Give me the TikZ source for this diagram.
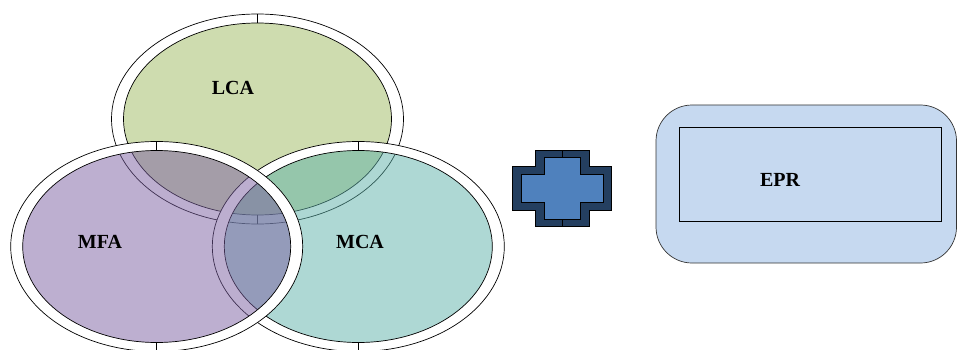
\documentclass[tikz,border=0pt]{standalone}
\usepackage{fontspec}
\setmainfont{Liberation Serif}
\definecolor{lcagreen}{RGB}{157,185,95}
\definecolor{mfapurple}{RGB}{123,95,161}
\definecolor{mcateal}{RGB}{93,177,169}
\definecolor{plusdark}{RGB}{36,63,96}
\definecolor{pluslight}{RGB}{79,129,189}
\definecolor{eprblue}{RGB}{198,217,240}

\begin{document}
\begin{tikzpicture}[x=1pt, y=-1pt, line width=0.7pt,
    ring/.style={fill=white, even odd rule},
    setlabel/.style={font=\fontsize{20}{24}\selectfont\bfseries}]
    \useasboundingbox (0,0) rectangle (957,350);

    \coordinate (lca) at (257.5,119);
    \coordinate (mca) at (358.3,246.5);
    \coordinate (mfa) at (156.7,246.5);

    \fill[ring] (lca) ellipse (146pt and 105pt) (lca) ellipse (134pt and 96pt);
    \fill[lcagreen, fill opacity=0.5] (lca) ellipse (134pt and 96pt);
    \draw (lca) ellipse (146pt and 105pt);
    \draw (lca) ellipse (134pt and 96pt);
    \draw (lca) ++(0,-105) -- ++(0,9);
    \draw (lca) ++(0,105) -- ++(0,-9);

    \fill[ring] (mca) ellipse (146pt and 105pt) (mca) ellipse (134pt and 96pt);
    \fill[mcateal, fill opacity=0.5] (mca) ellipse (134pt and 96pt);
    \draw (mca) ellipse (146pt and 105pt);
    \draw (mca) ellipse (134pt and 96pt);
    \draw (mca) ++(0,-105) -- ++(0,9);
    \draw (mca) ++(0,105) -- ++(0,-9);

    \fill[ring] (mfa) ellipse (146pt and 105pt) (mfa) ellipse (134pt and 96pt);
    \fill[mfapurple, fill opacity=0.5] (mfa) ellipse (134pt and 96pt);
    \draw (mfa) ellipse (146pt and 105pt);
    \draw (mfa) ellipse (134pt and 96pt);
    \draw (mfa) ++(0,-105) -- ++(0,9);
    \draw (mfa) ++(0,105) -- ++(0,-9);

    \node[setlabel] (lcalabel) at (233,88) {LCA};
    \node[setlabel] (mfalabel) at (100,242) {MFA};
    \node[setlabel] (mcalabel) at (360,242) {MCA};

    \draw[fill=plusdark] (535.7,150.7) -- (589,150.7) -- (589,166.7) -- (611.7,166.7)
        -- (611.7,210) -- (589,210) -- (589,226.7) -- (535.7,226.7) -- (535.7,210)
        -- (512.7,210) -- (512.7,166.7) -- (535.7,166.7) -- cycle;
    \draw[fill=pluslight] (544.3,157.3) -- (580.7,157.3) -- (580.7,174.3) -- (603.3,174.3)
        -- (603.3,202.7) -- (580.7,202.7) -- (580.7,219.3) -- (544.3,219.3) -- (544.3,202.7)
        -- (521.7,202.7) -- (521.7,174.3) -- (544.3,174.3) -- cycle;
    \draw (562.2,150.7) -- (562.2,157.3);
    \draw (562.2,219.3) -- (562.2,226.7);

    \draw[draw=black!80, fill=eprblue, rounded corners=36pt] (656,105) rectangle (956.5,263);
    \draw (679.3,127.7) rectangle (941.7,221);
    \node[setlabel] (epr) at (780,180) {EPR};
\end{tikzpicture}
\end{document}
